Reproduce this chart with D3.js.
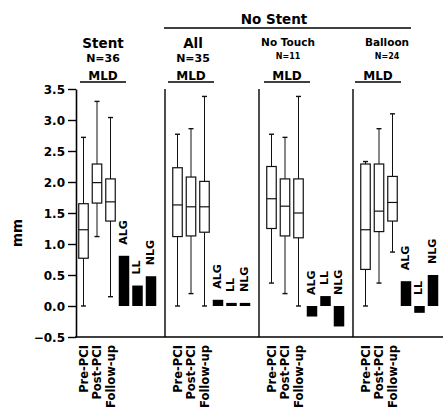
<!DOCTYPE html>
<html>
<head>
<meta charset="utf-8">
<script src="https://cdn.jsdelivr.net/npm/d3@7"></script>
<style>
  body { margin: 0; background: #fff; }
  text { font-family: "DejaVu Sans", Verdana, sans-serif; font-weight: bold; fill: #000; }
</style>
</head>
<body>
<svg id="chart"></svg>
<script>
// data
var groups = ["Stent", "All", "No Touch", "Balloon"];
var nLabels = ["N=36", "N=35", "N=11", "N=24"];
var timepoints = ["Pre-PCI", "Post-PCI", "Follow-up"];
var measures = ["ALG", "LL", "NLG"];
var yTicks = [-0.5, 0, 0.5, 1, 1.5, 2, 2.5, 3, 3.5];

// [min, q1, median, q3, max] per timepoint
var stentBoxes   = [[0.00, 0.77, 1.23, 1.65, 2.72], [1.12, 1.66, 1.99, 2.29, 3.30], [0.15, 1.37, 1.68, 2.05, 3.04]];
var allBoxes     = [[0.00, 1.12, 1.63, 2.23, 2.77], [0.20, 1.13, 1.60, 2.08, 2.86], [0.00, 1.19, 1.60, 2.01, 3.38]];
var noTouchBoxes = [[0.37, 1.25, 1.73, 2.25, 2.77], [0.20, 1.13, 1.61, 2.05, 2.72], [0.00, 1.10, 1.50, 2.05, 3.38]];
var balloonBoxes = [[0.00, 0.59, 1.23, 2.29, 2.33], [0.37, 1.20, 1.53, 2.29, 2.86], [0.87, 1.37, 1.67, 2.09, 3.10]];

// ALG, LL, NLG
var stentBars   = [0.81, 0.33, 0.48];
var allBars     = [0.10, 0.05, 0.05];
var noTouchBars = [-0.17, 0.16, -0.33];
var balloonBars = [0.40, -0.11, 0.50];

var boxData = [stentBoxes, allBoxes, noTouchBoxes, balloonBoxes];
var barData = [stentBars, allBars, noTouchBars, balloonBars];

const width = 443;
const height = 413;

var svg = d3.select('#chart')
  .attr('width', width)
  .attr('height', height);

var y = d3.scaleLinear()
  .domain([-0.5, 3.5])
  .range([337, 89]);

var panelX = d3.scaleBand()
  .domain(groups)
  .range([71, 447]);

var slots = timepoints.concat(measures);
var slotX = d3.scaleBand()
  .domain(slots)
  .range([5.75, 86.75]);

var cx = (g, s) => panelX(g) + slotX(s) + slotX.bandwidth() / 2;

// small per-panel nudges for header text (layout only)
var titleDx = [6, 2, 3, 8];
var mldDx = [6, 0, 2, -1];

// y axis
var yAxis = d3.axisLeft(y)
  .tickValues(yTicks)
  .tickFormat(d3.format(".1f"))
  .tickSize(8)
  .tickSizeOuter(0)
  .tickPadding(3);

var ga = svg.append('g')
  .attr('transform', 'translate(76,0)')
  .call(yAxis);
ga.select('.domain').attr('stroke-width', 1.6);
ga.selectAll('.tick line').attr('stroke-width', 1.4);
ga.selectAll('.tick text')
  .style('font-size', '12px')
  .attr('dy', '0.36em');

// bottom line
svg.append('line')
  .attr('x1', 75).attr('x2', width)
  .attr('y1', y(-0.5)).attr('y2', y(-0.5))
  .attr('stroke', '#000').attr('stroke-width', 1.6);

// panel dividers
svg.selectAll('.divider')
  .data(groups.slice(1))
  .enter().append('line')
    .attr('class', 'divider')
    .attr('x1', d => panelX(d)).attr('x2', d => panelX(d))
    .attr('y1', y(3.5)).attr('y2', y(-0.5))
    .attr('stroke', '#000').attr('stroke-width', 1.4);

// y label
svg.append('text')
  .attr('transform', `translate(17,${(y(3.5) + y(-0.5)) / 2 + 20}) rotate(-90)`)
  .attr('text-anchor', 'middle')
  .attr('dominant-baseline', 'central')
  .style('font-size', '13.5px')
  .text('mm');

// "No Stent" header
var nsLeft = panelX("All") - 1;
var nsRight = panelX("Balloon") + 58;
svg.append('text')
  .attr('x', 274).attr('y', 24)
  .attr('text-anchor', 'middle')
  .style('font-size', '13.5px')
  .text('No Stent');
svg.append('line')
  .attr('x1', nsLeft).attr('x2', nsRight)
  .attr('y1', 28).attr('y2', 28)
  .attr('stroke', '#000').attr('stroke-width', 1.3);

groups.forEach((g, gi) => {
  var mid = cx(g, timepoints[1]);
  var small = gi >= 2;

  svg.append('text')
    .attr('x', mid + titleDx[gi]).attr('y', small ? 46 : 48)
    .attr('text-anchor', 'middle')
    .style('font-size', small ? '10.5px' : '13.5px')
    .text(g);
  svg.append('text')
    .attr('x', mid + titleDx[gi]).attr('y', small ? 59 : 62)
    .attr('text-anchor', 'middle')
    .style('font-size', small ? '8px' : '11px')
    .text(nLabels[gi]);
  svg.append('text')
    .attr('x', mid + mldDx[gi]).attr('y', 80)
    .attr('text-anchor', 'middle')
    .style('font-size', '12px')
    .text('MLD');
  svg.append('line')
    .attr('x1', mid + mldDx[gi] - 23).attr('x2', mid + mldDx[gi] + 23)
    .attr('y1', 82).attr('y2', 82)
    .attr('stroke', '#000').attr('stroke-width', 1.3);

  // box plots
  var bw = 9.5;
  var box = svg.selectAll(`.box${gi}`)
    .data(boxData[gi])
    .enter().append('g')
      .attr('class', `box${gi}`)
      .attr('transform', (d, i) => `translate(${cx(g, timepoints[i])},0)`);

  box.append('line')
    .attr('x1', 0).attr('x2', 0)
    .attr('y1', d => y(d[0])).attr('y2', d => y(d[4]))
    .attr('stroke', '#111').attr('stroke-width', 1);
  box.append('line')
    .attr('x1', -2.5).attr('x2', 2.5)
    .attr('y1', d => y(d[4])).attr('y2', d => y(d[4]))
    .attr('stroke', '#111').attr('stroke-width', 1.4);
  box.append('line')
    .attr('x1', -2.5).attr('x2', 2.5)
    .attr('y1', d => y(d[0])).attr('y2', d => y(d[0]))
    .attr('stroke', '#111').attr('stroke-width', 1.4);
  box.append('rect')
    .attr('x', -bw / 2)
    .attr('width', bw)
    .attr('y', d => y(d[3]))
    .attr('height', d => y(d[1]) - y(d[3]))
    .attr('fill', '#fff')
    .attr('stroke', '#111').attr('stroke-width', 1.2);
  box.append('line')
    .attr('x1', -bw / 2).attr('x2', bw / 2)
    .attr('y1', d => y(d[2])).attr('y2', d => y(d[2]))
    .attr('stroke', '#111').attr('stroke-width', 1.2);

  // bars
  var barW = 10.5;
  svg.selectAll(`.bar${gi}`)
    .data(barData[gi])
    .enter().append('rect')
      .attr('class', `bar${gi}`)
      .attr('x', (d, i) => cx(g, measures[i]) - barW / 2)
      .attr('width', barW)
      .attr('y', d => y(Math.max(d, 0)))
      .attr('height', d => Math.abs(y(d) - y(0)))
      .attr('fill', '#000');

  svg.selectAll(`.barlabel${gi}`)
    .data(barData[gi])
    .enter().append('text')
      .attr('class', `barlabel${gi}`)
      .attr('transform', (d, i) => `translate(${cx(g, measures[i]) - 1},${y(Math.max(d, 0)) - 11}) rotate(-90)`)
      .attr('dominant-baseline', 'central')
      .style('font-size', '11px')
      .text((d, i) => measures[i]);

  // x labels
  svg.selectAll(`.xlabel${gi}`)
    .data(timepoints)
    .enter().append('text')
      .attr('class', `xlabel${gi}`)
      .attr('transform', d => `translate(${cx(g, d)},345) rotate(-90)`)
      .attr('text-anchor', 'end')
      .attr('dominant-baseline', 'central')
      .style('font-size', '11.5px')
      .text(d => d);
});
</script>
</body>
</html>
